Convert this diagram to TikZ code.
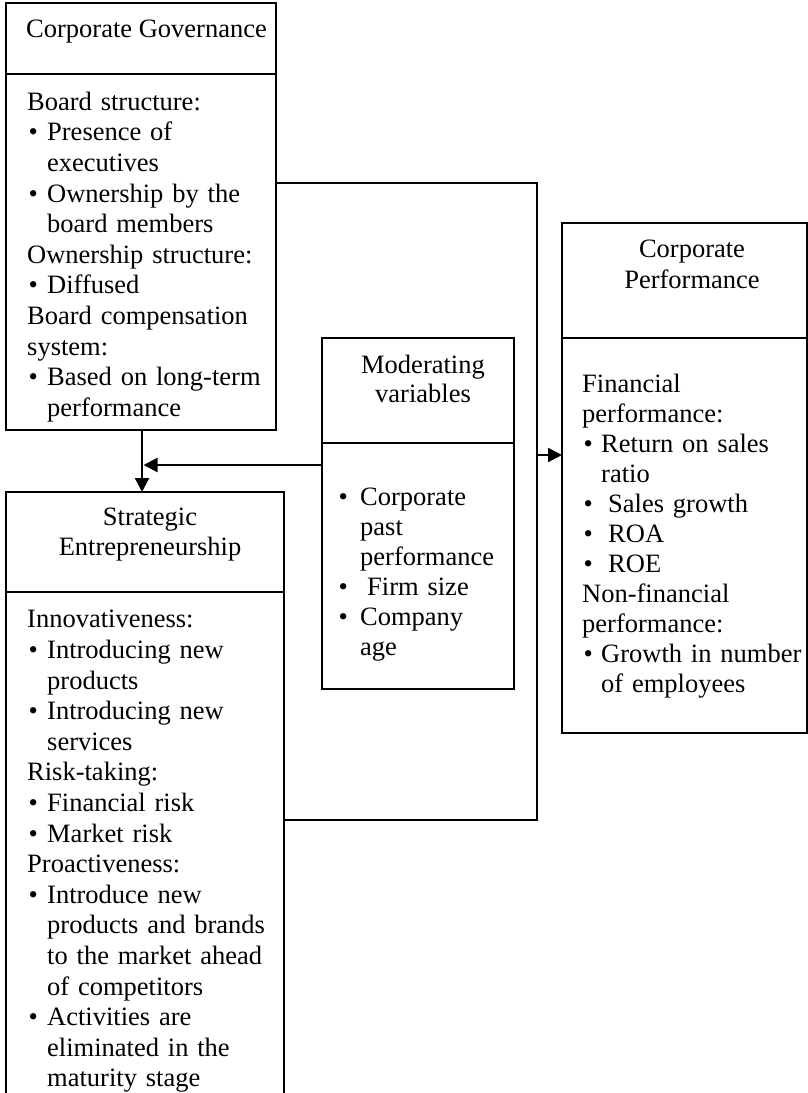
\documentclass[tikz,border=0pt]{standalone}
\usepackage{fontspec}
\setmainfont{Liberation Serif}
\usetikzlibrary{arrows.meta}
\newcommand{\hd}[1]{\par\noindent #1}
\newcommand{\bl}[2][20pt]{\par\noindent\makebox[#1][l]{\hspace{1.4pt}\textbullet}#2}
\newcommand{\cl}[2][20pt]{\par\noindent\hspace*{#1}#2}
\newcommand{\st}{\rule{0pt}{20pt}}
\tikzset{
  box/.style={draw, line width=1.6pt, inner sep=0pt, outer sep=0pt, anchor=north west},
  conn/.style={line width=2.2pt},
  tip/.style={-{Triangle[length=14pt,width=14pt]}},
  body/.style={inner sep=0pt, anchor=north west, text width=300pt, align=left,
     execute at begin node={\parskip=0pt}},
  head/.style={inner sep=0pt, align=center, anchor=north}
}
\begin{document}
\begin{tikzpicture}[x=1pt,y=-1pt]
\useasboundingbox[fill=white] (0,0) rectangle (808,1093);
% boxes
\node[box, minimum width=270pt, minimum height=71pt] (cgh) at (6,3) {};
\node[box, minimum width=270pt, minimum height=356pt] (cgb) at (6,74) {};
\node[box, minimum width=278pt, minimum height=100pt] (seh) at (6,492) {};
\node[box, minimum width=278pt, minimum height=520pt] (seb) at (6,592) {};
\node[box, minimum width=192pt, minimum height=105pt] (modh) at (322,338) {};
\node[box, minimum width=192pt, minimum height=246pt] (modb) at (322,443) {};
\node[box, minimum width=245pt, minimum height=115pt] (cph) at (562,223) {};
\node[box, minimum width=245pt, minimum height=395pt] (cpb) at (562,338) {};
% headers
\node[inner sep=0pt, anchor=base west, font=\fontsize{26.5}{30.6}\selectfont] (cgt) at (26,37) {Corporate Governance};
\node[head, font=\fontsize{26.5}{30}\selectfont] (set) at (150,505) {\st Strategic\\Entrepreneurship};
\node[head, font=\fontsize{26.5}{29.5}\selectfont] (modt) at (423,353) {\st Moderating\\variables};
\node[head, font=\fontsize{26.5}{31}\selectfont] (cpt) at (692,237) {\st Corporate\\Performance};
% bodies
\node[body, font=\fontsize{26.5}{30.6}\selectfont] (cgx) at (27,79.5) {%
\hd{\st Board structure:}
\bl{Presence of}
\cl{executives}
\bl{Ownership by the}
\cl{board members}
\hd{Ownership structure:}
\bl{Diffused}
\hd{Board compensation}
\hd{system:}
\bl{Based on long-term}
\cl{performance}};
\node[body, font=\fontsize{26.5}{30.6}\selectfont] (sex) at (27,597) {%
\hd{\st Innovativeness:}
\bl{Introducing new}
\cl{products}
\bl{Introducing new}
\cl{services}
\hd{Risk-taking:}
\bl{Financial risk}
\bl{Market risk}
\hd{Proactiveness:}
\bl{Introduce new}
\cl{products and brands}
\cl{to the market ahead}
\cl{of competitors}
\bl{Activities are}
\cl{eliminated in the}
\cl{maturity stage}};
\node[body, font=\fontsize{26.5}{30}\selectfont] (modx) at (337,475) {%
\bl[23pt]{\st Corporate}
\cl[23pt]{past}
\cl[23pt]{performance}
\bl[23pt]{\hspace{7pt}Firm size}
\bl[23pt]{Company}
\cl[23pt]{age}};
\node[body, font=\fontsize{26.5}{30}\selectfont] (cpx) at (582,362) {%
\hd{\st Financial}
\hd{performance:}
\bl[19pt]{Return on sales}
\cl[19pt]{ratio}
\bl[19pt]{\hspace{7pt}Sales growth}
\bl[19pt]{\hspace{7pt}ROA}
\bl[19pt]{\hspace{7pt}ROE}
\hd{Non-financial}
\hd{performance:}
\bl[19pt]{Growth in number}
\cl[19pt]{of employees}};
% connectors
\coordinate (vx) at (142,0);
\coordinate (hy) at (0,465);
\coordinate (ltip) at (143.5,465);
\coordinate (y1) at (0,183);
\coordinate (y2) at (0,820);
\coordinate (jx) at (537,455);
\draw[conn, tip] (cgb.south -| vx) -- (seh.north -| vx);
\draw[conn, tip] (modb.west |- hy) -- (ltip);
\draw[conn] (cgb.east |- y1) -| (jx);
\draw[conn] (seb.east |- y2) -| (jx);
\draw[conn, tip] (jx) -- (cpb.west |- jx);
\end{tikzpicture}
\end{document}
